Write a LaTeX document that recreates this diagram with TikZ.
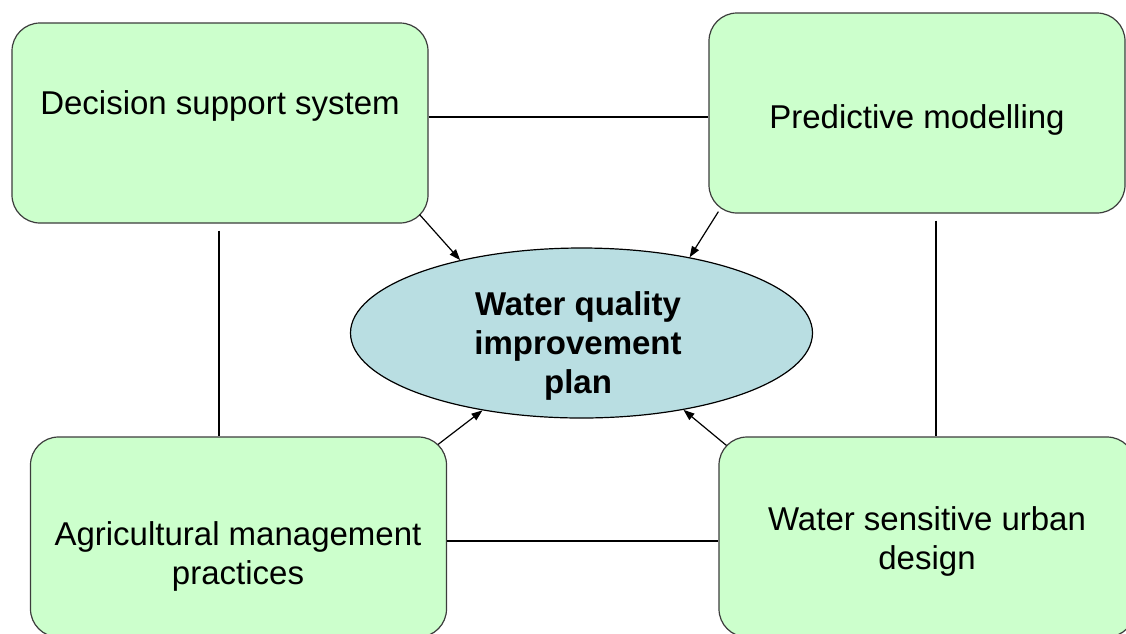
\documentclass[tikz,border=0pt]{standalone}
\usepackage{fontspec}
\setmainfont{Liberation Sans}
\usetikzlibrary{arrows.meta,shapes.geometric}
\definecolor{boxgreen}{HTML}{CCFFCC}
\definecolor{ellblue}{RGB}{185,222,226}
\definecolor{edgegray}{RGB}{60,60,60}
\begin{document}
\begin{tikzpicture}[x=1pt,y=-1pt,
  box/.style={draw=edgegray,line width=1.2pt,fill=boxgreen,rounded corners=28pt,
              minimum width=416pt,minimum height=200pt,inner sep=0pt},
  goal/.style={ellipse,draw=black,line width=1.2pt,fill=ellblue,
              minimum width=462pt,minimum height=170pt,inner sep=0pt},
  lbl/.style={font=\fontsize{33}{39}\selectfont,align=center,inner sep=0pt},
  goallbl/.style={font=\fontsize{33}{39}\selectfont\bfseries,align=center,inner sep=0pt},
  link/.style={line width=1.2pt},
  arr/.style={line width=1.2pt,-{Triangle[length=11pt,width=8pt]}}]
\useasboundingbox (0,0) rectangle (1126,633);
\clip (0,0) rectangle (1126,633);

% boxes
\node[box] (dss) at (220,123) {};
\node[box] (pm)  at (917,113) {};
\node[box] (amp) at (238.5,537) {};
\node[box] (wsud) at (927,537) {};
\node[goal] (wq) at (581.5,333) {};

% labels
\node[lbl] (tdss) at (220,106) {Decision support system};
\node[lbl] (tpm)  at (917,120) {Predictive modelling};
\node[lbl] (tamp) at (238,556) {Agricultural management\\practices};
\node[lbl] (twsud) at (927,541) {Water sensitive urban\\design};
\node[goallbl] (twq) at (578,346) {Water quality\\improvement\\plan};

% plain links
\coordinate (h1) at ([yshift=6pt]dss.east);
\draw[link] (h1) -- (h1 -| pm.west);
\coordinate (v1) at ([xshift=-1pt,yshift=-7pt]dss.south);
\draw[link] (v1) -- (v1 |- amp.north);
\coordinate (v2) at ([xshift=19pt,yshift=-7pt]pm.south);
\draw[link] (v2) -- (v2 |- wsud.north);
\coordinate (h2) at ([yshift=-4pt]amp.east);
\draw[link] (h2) -- (h2 -| wsud.west);

% arrows into the goal
\coordinate (s1) at ([xshift=-9pt,yshift=9pt]dss.south east);
\coordinate (s2) at ([xshift=10pt,yshift=2pt]pm.south west);
\coordinate (s3) at ([xshift=-9pt,yshift=-8pt]amp.north east);
\coordinate (s4) at ([xshift=8pt,yshift=-9pt]wsud.north west);
\draw[arr] (s1) -- (wq.149);
\draw[arr] (s2) -- (wq.35);
\draw[arr] (s3) -- (wq.218);
\draw[arr] (s4) -- (wq.323);
\end{tikzpicture}
\end{document}
